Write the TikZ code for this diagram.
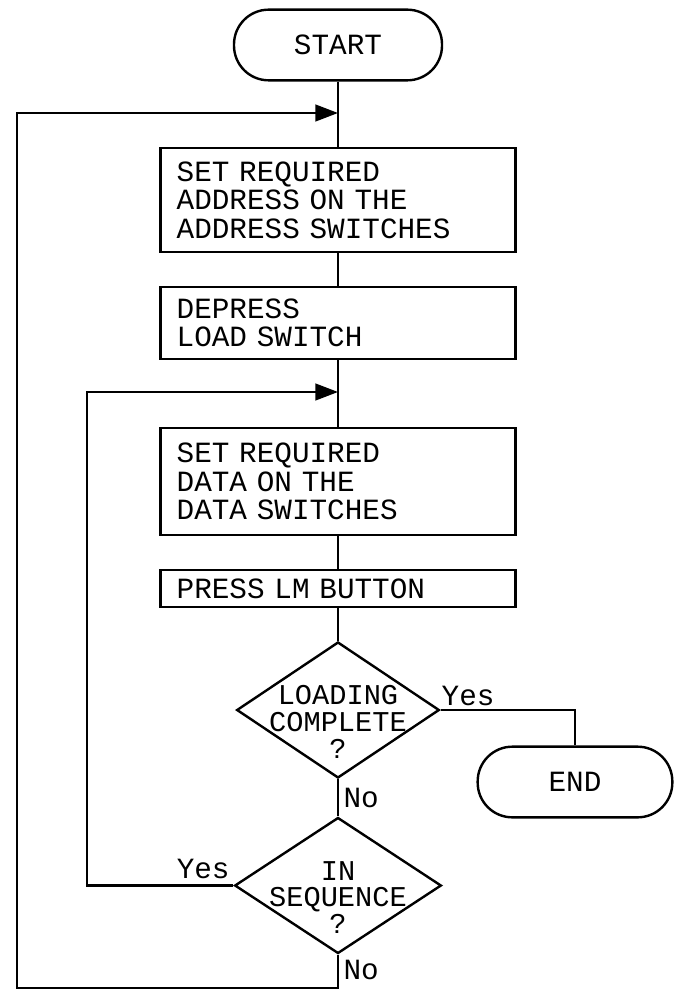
\documentclass[tikz,border=0pt]{standalone}
\usepackage{fontspec}
\newfontfamily\flowfont{Liberation Mono}
\newcommand\flowtext{\flowfont\fontsize{22}{21.4}\selectfont}
\newcommand\flowinside{\flowfont\fontsize{21.5}{20}\selectfont}
\usetikzlibrary{arrows.meta,shapes.geometric}

\begin{document}
\begin{tikzpicture}[x=0.75pt, y=-0.75pt, >={Triangle[length=17pt,width=12.5pt]}, line width=1.8pt,
  every node/.style={font=\flowtext},
  terminal/.style={draw, rectangle, rounded corners=26pt, minimum width=156pt, minimum height=53pt},
  stepbox/.style={draw, rectangle, text width=242pt, align=left, inner xsep=12pt, inner ysep=3pt, minimum height=#1},
  decision/.style={draw, diamond, minimum width=152pt, minimum height=102pt, inner sep=0pt},
  inside/.style={align=center, yshift=-9pt, font=\flowinside}]
  \useasboundingbox (0,0) rectangle (675,991);

  \node[terminal] (start) at (338,45) {START};
  \node[stepbox=78pt] (setaddr) at (338,200) {SET REQUIRED\\ADDRESS ON THE\\ADDRESS SWITCHES};
  \node[stepbox=54pt] (depress) at (338,323) {DEPRESS\\LOAD SWITCH};
  \node[stepbox=80pt] (setdata) at (338,481.5) {SET REQUIRED\\DATA ON THE\\DATA SWITCHES};
  \node[stepbox=28pt] (presslm) at (338,588.5) {PRESS LM BUTTON};
  \node[decision, label={[inside]center:LOADING\\COMPLETE\\?}] (loaddone) at (338,710) {};
  \node[terminal, minimum width=146pt] (finish) at (575,782) {END};
  \node[decision, minimum width=155pt, label={[inside]center:IN\\SEQUENCE\\?}] (inseq) at (338,885.5) {};

  \coordinate (topjoin) at (338,113);
  \coordinate (midjoin) at (338,392);
  \coordinate (outerturn) at (17,988);
  \coordinate (innerturn) at (87,392);

  \draw (start) -- (setaddr);
  \draw (setaddr) -- (depress);
  \draw (depress) -- (setdata);
  \draw (setdata) -- (presslm);
  \draw (presslm) -- (loaddone);
  \draw (loaddone) -- node[right] {No} (inseq);
  \draw (loaddone.east) node[above right, inner sep=0pt, yshift=2pt] {Yes} -| (finish);
  \draw[->] (inseq.west) node[above left, inner sep=2pt, yshift=2pt] {Yes} -| (innerturn) -- (midjoin);
  \draw[->] (inseq.south) node[below right] {No} |- (outerturn) |- (topjoin);
\end{tikzpicture}
\end{document}
